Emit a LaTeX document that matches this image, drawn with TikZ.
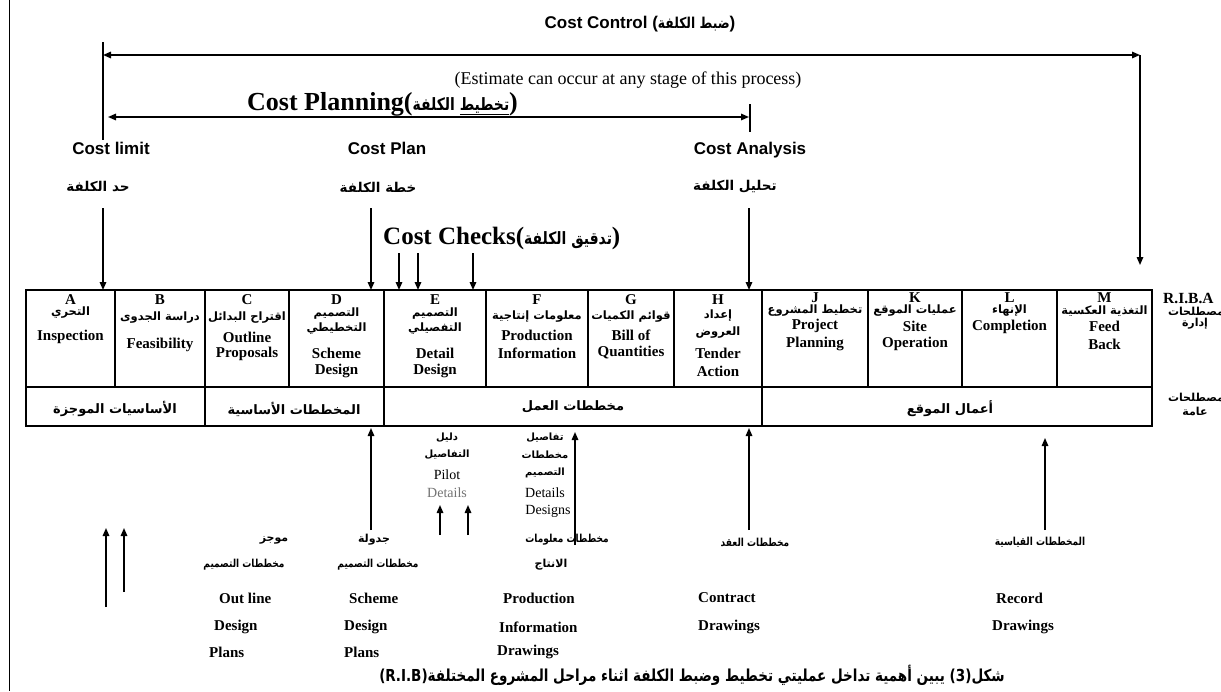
\documentclass[tikz,border=0pt]{standalone}
\usepackage{fontspec}
\setmainfont{Liberation Serif}
\newfontfamily\arialf{Liberation Sans}
\newfontfamily\ar[Script=Arabic]{DejaVu Sans}
\newfontfamily\arc[Script=Arabic,FakeStretch=0.82]{DejaVu Sans}
\TeXXeTstate=1
\usetikzlibrary{arrows.meta}
\newcommand{\fsz}[2]{\fontsize{#1}{#2}\selectfont}
\newcommand{\AR}{\ar\bfseries}
\newcommand{\ARC}{\arc\bfseries}
\tikzset{
  arr/.style={line width=1.5pt,-{Triangle[length=8pt,width=6.5pt]}},
  darr/.style={line width=1.5pt,{Triangle[length=8pt,width=6.5pt]}-{Triangle[length=8pt,width=6.5pt]}},
  ln/.style={line width=1.5pt},
  tbl/.style={line width=1.3pt},
  tline/.style={inner sep=0pt,font=\fsz{15}{17}\bfseries},
  arl/.style={inner sep=0pt,font=\fsz{11.5}{13}},
  big/.style={inner sep=0pt,anchor=base,font=\arialf\bfseries\fsz{17}{19}},
  bot/.style={inner sep=0pt,anchor=west,font=\fsz{15}{17}\bfseries},
  arb/.style={inner sep=0pt,font=\fsz{11}{13}},
}
\newcommand{\tl}[4]{\node[tline] (#1) at (#2,#3) {#4};}
\begin{document}
\begin{tikzpicture}[x=1pt,y=-1pt]
\useasboundingbox (0,0) rectangle (1221,691);
\fill[white] (0,0) rectangle (1221,691);
% page border
\coordinate (pbT) at (9,0); \coordinate (pbB) at (9,691);
\draw[line width=1pt] (pbT) -- (pbB);

% ---- Cost control
\node[inner sep=0pt,font=\arialf\bfseries\fsz{17}{19}] (cc) at (640,24) {Cost Control ({\ARC\fsz{15}{17}\beginR ضبط الكلفة\endR})};
\coordinate (vtT) at (103,42); \coordinate (vtB) at (103,140);
\draw[ln] (vtT) -- (vtB);
\coordinate (ccL) at (103,55); \coordinate (ccR) at (1140,55); \coordinate (ccD) at (1140,265);
\draw[darr] (ccL) -- (ccR);
\draw[arr] (ccR) -- (ccD);
\node[inner sep=0pt,font=\fsz{18}{20}] (est) at (628,80) {(Estimate can occur at any stage of this process)};

% ---- Cost planning
\node[inner sep=0pt,anchor=west,font=\bfseries\fsz{26}{28}] (cpt) at (247,104) {Cost Planning({\ARC\fsz{17}{19}\beginR\underline{تخطيط} الكلفة\endR})};
\coordinate (cpL) at (108,117); \coordinate (cpR) at (749,117);
\draw[darr] (cpL) -- (cpR);
\coordinate (tkT) at (750,104); \coordinate (tkB) at (750,132);
\draw[ln] (tkT) -- (tkB);

\node[big] (clim) at (111,154) {Cost limit};
\node[big] (cpla) at (387,154) {Cost Plan};
\node[big] (cana) at (750,154) {Cost Analysis};
\node[inner sep=0pt,font=\fsz{13.5}{15}] (clA) at (98,187) {{\AR\beginR حد الكلفة\endR}};
\node[inner sep=0pt,font=\fsz{13.5}{15}] (cpA) at (378,187) {{\AR\beginR خطة الكلفة\endR}};
\node[inner sep=0pt,font=\fsz{13.5}{15}] (caA) at (735,187) {{\AR\beginR تحليل الكلفة\endR}};

% ---- Cost checks
\node[inner sep=0pt,anchor=west,font=\bfseries\fsz{25}{27}] (cchk) at (383,238) {Cost Checks({\ARC\fsz{17}{19}\beginR تدقيق الكلفة\endR})};

% ---- table grid
\coordinate (tNW) at (26,290); \coordinate (tSE) at (1152,426);
\draw[tbl] (tNW) rectangle (tSE);
\coordinate (mL) at (26,387); \coordinate (mR) at (1152,387);
\draw[tbl] (mL) -- (mR);
\foreach \x in {115,289,486,588,674,868,962,1057} \draw[tbl] (\x,290) -- (\x,387);
\foreach \x in {205,384,762} \draw[tbl] (\x,290) -- (\x,426);

% arrows into table
\coordinate (aA0) at (103,208); \coordinate (aA1) at (103,290);
\coordinate (aD0) at (371,208); \coordinate (aD1) at (371,290);
\coordinate (aH0) at (749,208); \coordinate (aH1) at (749,290);
\coordinate (k10) at (399,253); \coordinate (k11) at (399,290);
\coordinate (k20) at (418,253); \coordinate (k21) at (418,290);
\coordinate (k30) at (473,253); \coordinate (k31) at (473,290);
\foreach \a in {aA,aD,aH,k1,k2,k3} \draw[arr] (\a0) -- (\a1);

% ---- cell texts
\tl{A1}{70.5}{300}{A}
\node[arl] (A2) at (70.5,313) {{\AR\beginR التحري\endR}};
\tl{A3}{70.5}{337}{Inspection}
\tl{B1}{160}{300}{B}
\node[arl] (B2) at (160,318) {{\AR\beginR دراسة الجدوى\endR}};
\tl{B3}{160}{345}{Feasibility}
\tl{C1}{247}{300}{C}
\node[arl] (C2) at (247,318) {{\AR\beginR اقتراح البدائل\endR}};
\tl{C3}{247}{337}{Outline} \tl{C4}{247}{354}{Proposals}
\tl{D1}{336.5}{300}{D}
\node[arl] (D2) at (336.5,314) {{\AR\beginR التصميم\endR}};
\node[arl] (D3) at (336.5,329) {{\AR\beginR التخطيطي\endR}};
\tl{D4}{336.5}{353}{Scheme} \tl{D5}{336.5}{371}{Design}
\tl{E1}{435}{300}{E}
\node[arl] (E2) at (435,314) {{\AR\beginR التصميم\endR}};
\node[arl] (E3) at (435,329) {{\AR\beginR التفصيلي\endR}};
\tl{E4}{435}{353}{Detail} \tl{E5}{435}{371}{Design}
\tl{F1}{537}{300}{F}
\node[arl] (F2) at (537,317) {{\AR\beginR معلومات إنتاجية\endR}};
\tl{F3}{537}{335}{Production} \tl{F4}{537}{353}{Information}
\tl{G1}{631}{300}{G}
\node[arl] (G2) at (631,317) {{\AR\beginR قوائم الكميات\endR}};
\tl{G3}{631}{335}{Bill of} \tl{G4}{631}{353}{Quantities}
\tl{H1}{718}{300}{H}
\node[arl] (H2) at (718,316) {{\AR\beginR إعداد\endR}};
\node[arl] (H3) at (718,333) {{\AR\beginR العروض\endR}};
\tl{H4}{718}{353}{Tender} \tl{H5}{718}{371}{Action}
\tl{J1}{815}{298}{J}
\node[arl] (J2) at (815,311) {{\AR\beginR تخطيط المشروع\endR}};
\tl{J3}{815}{326}{Project} \tl{J4}{815}{344}{Planning}
\tl{K1}{915}{298}{K}
\node[arl] (K2) at (915,311) {{\AR\beginR عمليات الموقع\endR}};
\tl{K3}{915}{326}{Site} \tl{K4}{915}{344}{Operation}
\tl{L1}{1009.5}{298}{L}
\node[arl] (L2) at (1009.5,311) {{\AR\beginR الإنهاء\endR}};
\tl{L3}{1009.5}{327}{Completion}
\tl{M1}{1104.5}{298}{M}
\node[arl] (M2) at (1104.5,311) {{\AR\beginR التغذية العكسية\endR}};
\tl{M3}{1104.5}{326}{Feed} \tl{M4}{1104.5}{344}{Back}

% lower row
\node[inner sep=0pt,font=\fsz{13}{15}] (r1) at (115,409) {{\AR\beginR الأساسيات الموجزة\endR}};
\node[inner sep=0pt,font=\fsz{13}{15}] (r2) at (294,409) {{\AR\beginR المخططات الأساسية\endR}};
\node[inner sep=0pt,font=\fsz{13}{15}] (r3) at (573,407) {{\AR\beginR مخططات العمل\endR}};
\node[inner sep=0pt,font=\fsz{13}{15}] (r4) at (950,409) {{\AR\beginR أعمال الموقع\endR}};

% right side labels
\node[inner sep=0pt,anchor=west,font=\fsz{15.5}{17}\bfseries] (riba) at (1163,298) {R.I.B.A};
\node[inner sep=0pt,font=\fsz{11}{13}] (mus1) at (1196,311) {{\AR\beginR مصطلحات\endR}};
\node[inner sep=0pt,font=\fsz{11}{13}] (idr) at (1195,324) {{\AR\beginR إدارة\endR}};
\node[inner sep=0pt,font=\fsz{11}{13}] (mus2) at (1196,397) {{\AR\beginR مصطلحات\endR}};
\node[inner sep=0pt,font=\fsz{11}{13}] (ama) at (1195,411) {{\AR\beginR عامة\endR}};

% ---- below table: pilot details, detail designs
\node[inner sep=0pt,font=\fsz{10}{12}] (pd1) at (447,438) {{\AR\beginR دليل\endR}};
\node[inner sep=0pt,font=\fsz{10}{12}] (pd2) at (447,455) {{\AR\beginR التفاصيل\endR}};
\node[inner sep=0pt,font=\fsz{14}{16}] (pd3) at (447,475) {Pilot};
\node[inner sep=0pt,font=\fsz{14}{16},text=black!55] (pd4) at (447,493) {Details};
\node[inner sep=0pt,font=\fsz{10}{12}] (dd1) at (545,438) {{\AR\beginR تفاصيل\endR}};
\node[inner sep=0pt,font=\fsz{10}{12}] (dd2) at (545,455) {{\AR\beginR مخططات\endR}};
\node[inner sep=0pt,font=\fsz{10}{12}] (dd3) at (545,473) {{\AR\beginR التصميم\endR}};
\node[inner sep=0pt,font=\fsz{14}{16}] (dd4) at (545,493) {Details};
\node[inner sep=0pt,font=\fsz{14}{16}] (dd5) at (548,511) {Designs};

% up arrows
\coordinate (u10) at (106,607); \coordinate (u11) at (106,528);
\coordinate (u20) at (124,592); \coordinate (u21) at (124,528);
\coordinate (u30) at (371,530); \coordinate (u31) at (371,428);
\coordinate (u40) at (440,535); \coordinate (u41) at (440,505);
\coordinate (u50) at (468,535); \coordinate (u51) at (468,505);
\coordinate (u60) at (575,545); \coordinate (u61) at (575,432);
\coordinate (u70) at (749,530); \coordinate (u71) at (749,428);
\coordinate (u80) at (1045,530); \coordinate (u81) at (1045,438);
\foreach \a in {u1,u2,u3,u4,u5,u6,u7,u8} \draw[arr] (\a0) -- (\a1);

% bottom labels
\node[arb] (b11) at (274,540) {{\AR\beginR موجز\endR}};
\node[arb] (b12) at (244,565) {{\ARC\beginR مخططات التصميم\endR}};
\node[bot] (b13) at (219,598) {Out line};
\node[bot] (b14) at (214,627) {Design};
\node[bot] (b15) at (209,652) {Plans};
\node[arb] (b21) at (374,540) {{\AR\beginR جدولة\endR}};
\node[arb] (b22) at (378,565) {{\ARC\beginR مخططات التصميم\endR}};
\node[bot] (b23) at (349,598) {Scheme};
\node[bot] (b24) at (344,627) {Design};
\node[bot] (b25) at (344,652) {Plans};
\node[arb] (b31) at (567,540) {{\ARC\beginR مخططات معلومات\endR}};
\node[arb] (b32) at (551,565) {{\AR\beginR الانتاج\endR}};
\node[bot] (b33) at (503,598) {Production};
\node[bot] (b34) at (499,627) {Information};
\node[bot] (b35) at (497,652) {Drawings};
\node[arb] (b41) at (755,542) {{\ARC\beginR مخططات العقد\endR}};
\node[bot] (b43) at (698,598) {Contract};
\node[bot] (b44) at (698,627) {Drawings};
\node[arb] (b51) at (1040,542) {{\ARC\beginR المخططات القياسية\endR}};
\node[bot] (b53) at (996,598) {Record};
\node[bot] (b54) at (992,627) {Drawings};

% caption
\node[inner sep=0pt,anchor=east,font=\fsz{16.5}{18}] (cap) at (1005,675) {{\ARC\beginR شكل(3) يبين أهمية تداخل عمليتي تخطيط وضبط الكلفة اثناء مراحل المشروع المختلفة\beginL(R.I.B)\endL\endR}};
\end{tikzpicture}
\end{document}
